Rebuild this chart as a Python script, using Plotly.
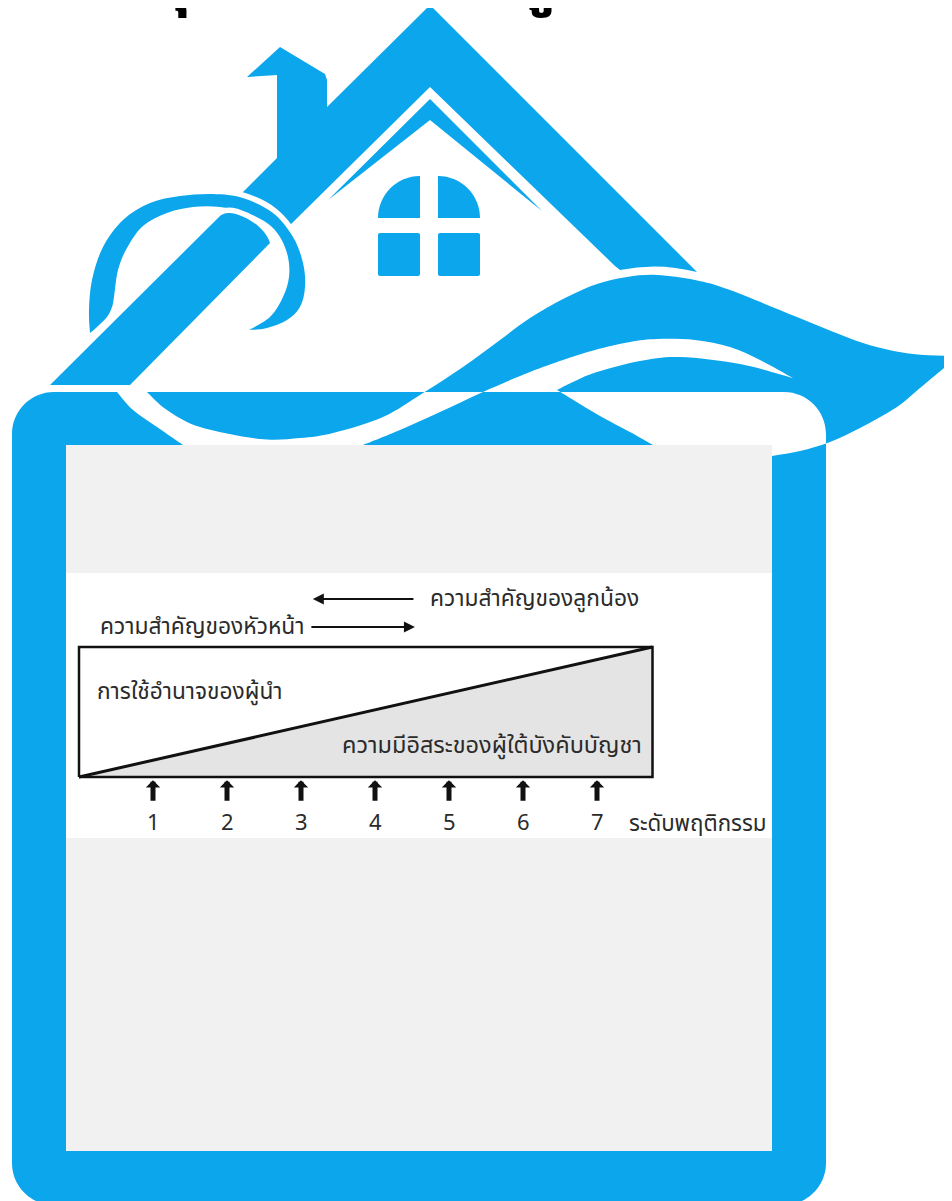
import plotly.graph_objects as go

# ---------------- data ----------------
levels = [1, 2, 3, 4, 5, 6, 7]
level_labels = ["1", "2", "3", "4", "5", "6", "7"]
span = [0.0, 7.75]                 # continuum of leadership behaviour (start, end)
subordinate_freedom = [0.0, 1.0]   # share of freedom of subordinates along the span
axis_title = "ระดับพฤติกรรม"
label_boss = "ความสำคัญของหัวหน้า"
label_sub = "ความสำคัญของลูกน้อง"
label_authority = "การใช้อำนาจของผู้นำ"
label_freedom = "ความมีอิสระของผู้ใต้บังคับบัญชา"

BLUE = "#0BA6EC"
THAI = "Noto Sans Thai, Noto Sans Thai UI, Loma, Garuda, sans-serif"

# page offset of the plotly div (body margin) -> work in page pixel coordinates
OFF = 8
W, H = 952 - OFF, 1201 - OFF


def px(X):
    return (X - OFF) / W


def py(Y):
    return 1 - (Y - OFF) / H


def smooth(pts, start="M"):
    s = f"{start}{pts[0][0]},{pts[0][1]}"
    for i in range(len(pts) - 1):
        p0 = pts[i - 1] if i > 0 else pts[i]
        p1, p2 = pts[i], pts[i + 1]
        p3 = pts[i + 2] if i + 2 < len(pts) else p2
        c1 = (p1[0] + (p2[0] - p0[0]) / 6, p1[1] + (p2[1] - p0[1]) / 6)
        c2 = (p2[0] - (p3[0] - p1[0]) / 6, p2[1] - (p3[1] - p1[1]) / 6)
        s += f" C{c1[0]:.1f},{c1[1]:.1f} {c2[0]:.1f},{c2[1]:.1f} {p2[0]},{p2[1]}"
    return s


def poly(pts):
    return "M" + " L".join(f"{x},{y}" for x, y in pts) + " Z"


def rrect(x0, y0, x1, y1, r):
    k = 0.5523 * r
    return (f"M{x0+r},{y0} L{x1-r},{y0} C{x1-r+k},{y0} {x1},{y0+r-k} {x1},{y0+r} "
            f"L{x1},{y1-r} C{x1},{y1-r+k} {x1-r+k},{y1} {x1-r},{y1} "
            f"L{x0+r},{y1} C{x0+r-k},{y1} {x0},{y1-r+k} {x0},{y1-r} "
            f"L{x0},{y0+r} C{x0},{y0+r-k} {x0+r-k},{y0} {x0+r},{y0} Z")


shapes = []


def add(path, fill=BLUE, line_color=None, lw=0, rule="nonzero"):
    shapes.append(dict(type="path", path=path, xref="x", yref="y", layer="below",
                       fillcolor=fill, fillrule=rule,
                       line=dict(width=lw, color=line_color or fill)))


# roof + chimney
roof = ("M247,77 L280,47 L325,74 L327,80 L327,107 L428,7 Q430,5 432,7 L697,272 "
        "Q658,262 620,270 L615,266 L430,87 L285,230 L232,203 L277,158 L277,75 Z")
add(roof)
# thin chevron
add(poly([(328,200), (430,99), (542,211), (430,120)]))
# windows
add("M420,176 L420,218 L378,218 C378,194.8 396.8,176 420,176 Z")
add("M438,176 L438,218 L480,218 C480,194.8 461.2,176 438,176 Z")
add(rrect(378, 233, 420, 276, 2))
add(rrect(438, 233, 480, 276, 2))

# magnifier ring (with white halo)
ring_outer = [(90,333), (89,310), (92,280), (103,247), (123,220), (150,203), (180,196),
              (213,194), (243,198), (273,213), (293,237), (303,263), (305,287),
              (300,307), (287,320), (267,328), (249,330)]
ring_inner = [(249,330), (270,317), (283,297), (289,277), (288,257), (280,237),
              (267,223), (247,213), (220,207), (193,207), (167,213), (143,226),
              (127,248), (118,270), (114,297), (112,307), (107,317), (97,327), (90,333)]
ring_path = smooth(ring_outer) + " " + smooth(ring_inner, start="L") + " Z"
add(ring_path, fill="white", line_color="white", lw=11)
add(ring_path)

# handle (with white halo)
handle = "M50,385 L130,385 L270,243 C266,230 252,219 236,214 C228,212 222,213 218,218 Z"
add(handle, fill="white", line_color="white", lw=11)
add(handle)

# frame + wave (even-odd: colours invert where they overlap)
frame = rrect(12, 392, 826, 1205, 42)
wave_top = [(147,392), (167,410), (200,427), (260,439), (300,438), (333,433), (383,417),
            (423,393), (463,367), (500,340), (530,318), (565,298), (597,284), (627,277),
            (657,275), (695,280), (730,290), (797,317), (863,343), (913,354), (962,356)]
wave_bot = [(962,361), (952,362), (920,388), (897,407), (860,428), (830,442), (800,451),
            (772,456), (740,462)]
wave_left = [(183,445), (157,427), (133,410), (117,392)]
wave = (smooth(wave_top) + " " + smooth(wave_bot, start="L") + " L740,490 L200,490 L188,458 "
        + smooth(wave_left, start="L") + " Z")
band_up = [(363,445), (400,430), (440,412), (483,392), (530,372), (563,360), (595,350),
           (630,342), (657,339), (695,340), (730,347), (760,360), (793,378)]
band_lo = [(793,378), (740,364), (680,357), (640,361), (597,372), (575,381), (557,390)]
band_in = [(557,390), (575,401), (600,416), (630,432), (653,445)]
band = ("M355,470 " + smooth(band_up, start="L") + " " + smooth(band_lo, start="L") + " "
        + smooth(band_in, start="L") + " L660,470 Z")
add(frame + " " + wave + " " + band, rule="evenodd")

# inner grey panel + white strip
shapes.append(dict(type="rect", xref="x", yref="y", x0=66, x1=772, y0=445, y1=1151,
                   fillcolor="#F1F1F1", line=dict(width=0), layer="below"))
shapes.append(dict(type="rect", xref="x", yref="y", x0=66, x1=772, y0=573, y1=838,
                   fillcolor="white", line=dict(width=0), layer="below"))

fig = go.Figure()
fig.add_trace(go.Scatter(x=[100], y=[100], mode="markers", marker=dict(opacity=0),
                         xaxis="x", yaxis="y", hoverinfo="skip", showlegend=False))

# ---------------- diagram ----------------
fig.add_trace(go.Scatter(x=span, y=subordinate_freedom, mode="lines", fill="tozeroy",
                         fillcolor="#E4E4E4", line=dict(width=0), xaxis="x2", yaxis="y2",
                         showlegend=False, hoverinfo="skip"))
fig.add_trace(go.Scatter(x=[span[0], span[1], span[1], span[0], span[0]],
                         y=[0, 0, 1, 1, 0], mode="lines",
                         line=dict(color="#111111", width=2.5), xaxis="x2", yaxis="y2",
                         showlegend=False, hoverinfo="skip"))
fig.add_trace(go.Scatter(x=span, y=subordinate_freedom, mode="lines",
                         line=dict(color="#111111", width=3), xaxis="x2", yaxis="y2",
                         showlegend=False, hoverinfo="skip"))


def txt(size):
    return dict(family=THAI, size=size, color="#2B2B2B")


ann = []
for lv, lab in zip(levels, level_labels):
    ann.append(dict(x=lv, y=-0.025, xref="x2", yref="y2", ax=0, ay=22, text="",
                    showarrow=True, arrowhead=1, arrowwidth=5, arrowsize=0.48,
                    arrowcolor="#111111"))
    ann.append(dict(x=lv, y=-0.36, xref="x2", yref="y2", text=lab, showarrow=False,
                    font=txt(22)))
ann.append(dict(x=7.405, y=-0.36, xref="x2", yref="y2", text=axis_title, showarrow=False,
                xanchor="left", font=txt(22.3)))
# importance arrows
ann.append(dict(x=3.16, y=1.369, ax=4.54, ay=1.369, xref="x2", yref="y2", axref="x2",
                ayref="y2", text="", showarrow=True, arrowhead=2, arrowwidth=2,
                arrowsize=1.1, arrowcolor="#111111"))
ann.append(dict(x=4.54, y=1.154, ax=3.12, ay=1.154, xref="x2", yref="y2", axref="x2",
                ayref="y2", text="", showarrow=True, arrowhead=2, arrowwidth=2,
                arrowsize=1.1, arrowcolor="#111111"))
ann.append(dict(x=4.716, y=1.369, xref="x2", yref="y2", text=label_sub, showarrow=False,
                xanchor="left", font=txt(22.8)))
ann.append(dict(x=0.257, y=1.154, xref="x2", yref="y2", text=label_boss, showarrow=False,
                xanchor="left", font=txt(22.8)))
ann.append(dict(x=0.216, y=0.654, xref="x2", yref="y2", text=label_authority,
                showarrow=False, xanchor="left", font=txt(22.7)))
ann.append(dict(x=3.527, y=0.238, xref="x2", yref="y2", text=label_freedom,
                showarrow=False, xanchor="left", font=txt(23.5)))

# cut-off heading at the very top (only the lowest strokes are visible)
ann.append(dict(x=172, y=32, xref="x", yref="y", text="<b>บุ</b>", showarrow=False,
                yanchor="bottom", font=dict(family=THAI, size=64, color="black")))
ann.append(dict(x=537, y=32, xref="x", yref="y", text="<b>บู</b>", showarrow=False,
                yanchor="bottom", font=dict(family=THAI, size=64, color="black")))

fig.update_layout(
    width=W, height=H, margin=dict(l=0, r=0, t=0, b=0),
    paper_bgcolor="white", plot_bgcolor="rgba(0,0,0,0)",
    xaxis=dict(range=[OFF, OFF + W], domain=[0, 1], visible=False, fixedrange=True),
    yaxis=dict(range=[OFF + H, OFF], domain=[0, 1], visible=False, fixedrange=True),
    xaxis2=dict(range=[1 + (66 - 153) / 74, 1 + (772 - 153) / 74],
                domain=[px(66), px(772)], visible=False, anchor="y2"),
    yaxis2=dict(range=[(777 - 838) / 130, (777 - 573) / 130],
                domain=[py(838), py(573)], visible=False, anchor="x2"),
    shapes=shapes, annotations=ann, showlegend=False,
)
fig.write_html("out.html")
